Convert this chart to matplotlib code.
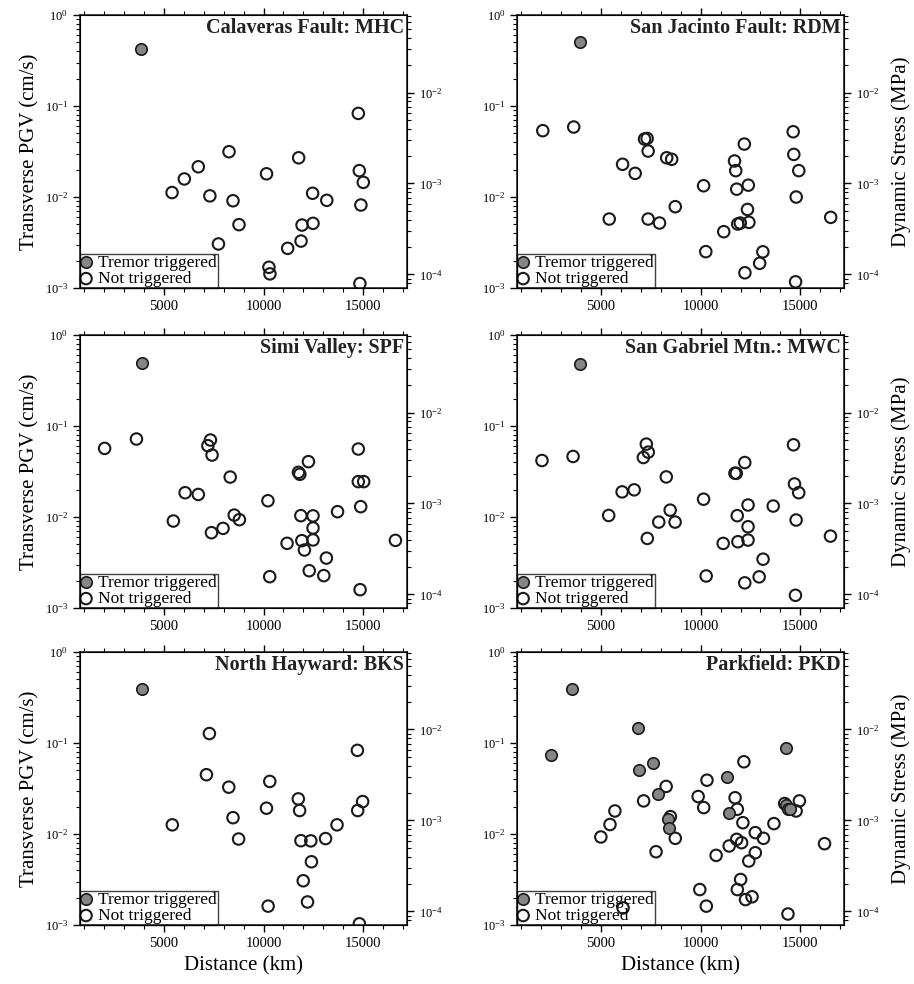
import matplotlib.pyplot as plt
from matplotlib.ticker import MultipleLocator, LogLocator, NullFormatter

plt.rcParams['font.family'] = ['Liberation Serif', 'DejaVu Serif']
plt.rcParams['mathtext.fontset'] = 'stix'

# --- data (distance km, transverse PGV cm/s) ---
mhc_trig_x = [3870]
mhc_trig_y = [0.42]
mhc_open_x = [5415, 6030, 6730, 7310, 7740, 8270, 8470, 8770, 10150, 10270, 10320,
              11210, 11760, 11880, 11930, 12460, 12480, 13170, 14750, 14800, 15000,
              14880, 14830]
mhc_open_y = [0.0112, 0.0158, 0.0215, 0.0103, 0.00305, 0.0315, 0.0091, 0.00497, 0.018,
              0.00169, 0.00143, 0.00273, 0.027, 0.00328, 0.00492, 0.011, 0.00514, 0.0092,
              0.083, 0.0195, 0.0145, 0.00817, 0.00112]

rdm_trig_x = [3940]
rdm_trig_y = [0.51]
rdm_open_x = [2090, 3640, 6090, 6720, 5420, 7190, 7320, 7370, 7370, 7940, 8300, 8550,
              8730, 10150, 10260, 11160, 11700, 11760, 11810, 11860, 11990, 12190,
              12390, 12350, 12420, 12220, 13120, 12960, 14640, 14670, 14920, 14790,
              14760, 16520]
rdm_open_y = [0.0536, 0.0588, 0.0229, 0.0182, 0.00573, 0.0434, 0.044, 0.032, 0.00573,
              0.00518, 0.027, 0.026, 0.00783, 0.0133, 0.00251, 0.00416, 0.0249, 0.0195,
              0.0122, 0.00505, 0.00518, 0.0382, 0.0135, 0.0073, 0.00527, 0.00147,
              0.0025, 0.00187, 0.0522, 0.0294, 0.0195, 0.01, 0.00117, 0.00598]

spf_trig_x = [3913]
spf_trig_y = [0.49]
spf_open_x = [2035, 3630, 5480, 6070, 6730, 7210, 7340, 7420, 7390, 7970, 8330, 8530,
              8790, 10220, 10310, 11180, 11750, 11820, 12250, 11870, 11920, 12050,
              12480, 12480, 12480, 12290, 13020, 13150, 13710, 14750, 14750, 15020,
              14870, 14840, 16610]
spf_open_y = [0.0568, 0.072, 0.00904, 0.0185, 0.0177, 0.0608, 0.0702, 0.048, 0.00673,
              0.0075, 0.0275, 0.0105, 0.00935, 0.0151, 0.00221, 0.00514, 0.031, 0.0295,
              0.0406, 0.01035, 0.0055, 0.00434, 0.0103, 0.00757, 0.0056, 0.00257,
              0.00227, 0.00354, 0.01145, 0.0559, 0.0245, 0.0245, 0.013, 0.00159, 0.00554]

mwc_trig_x = [3934]
mwc_trig_y = [0.475]
mwc_open_x = [2049, 3607, 5393, 6066, 6672, 7131, 7279, 7377, 7328, 7902, 8279, 8475,
              8721, 10148, 10279, 11131, 11721, 11787, 11836, 11869, 12213, 12377,
              12377, 12377, 12213, 12934, 13131, 13639, 14656, 14705, 14918, 14787,
              14754, 16508]
mwc_open_y = [0.0418, 0.0463, 0.0104, 0.0189, 0.0199, 0.0451, 0.0633, 0.0517, 0.00582,
              0.0088, 0.0276, 0.0119, 0.0088, 0.0157, 0.00225, 0.00513, 0.0303, 0.0302,
              0.01035, 0.00535, 0.0397, 0.01356, 0.00782, 0.00558, 0.00189, 0.0022,
              0.00344, 0.0132, 0.0622, 0.0231, 0.0185, 0.00927, 0.00138, 0.00617]

bks_trig_x = [3898]
bks_trig_y = [0.388]
bks_open_x = [5428, 7286, 7138, 8257, 8470, 8750, 10148, 10313, 10230, 11743, 11809,
              11875, 12368, 12401, 11990, 12204, 13109, 13684, 14704, 14720, 14967, 14803]
bks_open_y = [0.0126, 0.127, 0.0448, 0.0327, 0.0151, 0.0088, 0.0192, 0.0378, 0.00161,
              0.0243, 0.0181, 0.00844, 0.0084, 0.00495, 0.00306, 0.00179, 0.0089, 0.0126,
              0.083, 0.0181, 0.0227, 0.00103]

pkd_trig_x = [2512, 3576, 6849, 6931, 7635, 7864, 8355, 8404, 11301, 11399, 14263,
              14296, 14378, 14460]
pkd_trig_y = [0.0743, 0.388, 0.145, 0.0504, 0.0602, 0.0274, 0.0145, 0.01165, 0.0425,
              0.0172, 0.0873, 0.0209, 0.019, 0.0186]
pkd_open_x = [5000, 5458, 5704, 7144, 7766, 8273, 8486, 8731, 9877, 10155, 10319, 9959,
              10286, 10777, 11432, 11727, 11841, 11808, 12054, 12119, 12169, 12005,
              11841, 12250, 12578, 12414, 12741, 12741, 13150, 13674, 14214, 14787,
              14951, 16211, 14378, 6113]
pkd_open_y = [0.00927, 0.0127, 0.0179, 0.0231, 0.00638, 0.0333, 0.0155, 0.00896, 0.0258,
              0.0195, 0.039, 0.00245, 0.00161, 0.00582, 0.00738, 0.025, 0.0187, 0.00873,
              0.00802, 0.0133, 0.0622, 0.00316, 0.00245, 0.0019, 0.00204, 0.00504,
              0.01035, 0.00622, 0.00896, 0.013, 0.0216, 0.0179, 0.0231, 0.00782, 0.00132,
              0.00154]

titles = ["Calaveras Fault: MHC", "San Jacinto Fault: RDM", "Simi Valley: SPF",
          "San Gabriel Mtn.: MWC", "North Hayward: BKS", "Parkfield: PKD"]
panels = [(mhc_trig_x, mhc_trig_y, mhc_open_x, mhc_open_y),
          (rdm_trig_x, rdm_trig_y, rdm_open_x, rdm_open_y),
          (spf_trig_x, spf_trig_y, spf_open_x, spf_open_y),
          (mwc_trig_x, mwc_trig_y, mwc_open_x, mwc_open_y),
          (bks_trig_x, bks_trig_y, bks_open_x, bks_open_y),
          (pkd_trig_x, pkd_trig_y, pkd_open_x, pkd_open_y)]

stress_factor = 0.071  # PGV (cm/s) -> dynamic stress (MPa)

fig = plt.figure(figsize=(9.14, 9.84), dpi=100)
col_left = [0.0875, 0.5657]
row_bottom = [0.7073, 0.3821, 0.060]
ax_w, ax_h = 0.358, 0.2774

for i, (title, (tx, ty, ox, oy)) in enumerate(zip(titles, panels)):
    r, c = divmod(i, 2)
    ax = fig.add_axes([col_left[c], row_bottom[r], ax_w, ax_h])
    ax.scatter(ox, oy, s=68, facecolors='none', edgecolors='#1a1a1a',
               linewidths=1.5, label='Not triggered', zorder=3)
    ax.scatter(tx, ty, s=68, facecolors='#858585', edgecolors='#1a1a1a',
               linewidths=1.2, label='Tremor triggered', zorder=4)
    ax.set_yscale('log')
    ax.set_ylim(1e-3, 1)
    ax.set_xlim(800, 17200)
    ax.xaxis.set_major_locator(MultipleLocator(5000))
    ax.xaxis.set_minor_locator(MultipleLocator(1000))
    ax.tick_params(axis='x', which='both', direction='out', top=True, labelsize=10.5)
    ax.tick_params(axis='y', which='both', direction='out', labelsize=9)
    ax.tick_params(which='major', length=5, width=1)
    ax.tick_params(which='minor', length=3, width=0.8)
    for sp in ax.spines.values():
        sp.set_linewidth(1.2)
        sp.set_color('#222222')

    ax2 = ax.twinx()
    ax2.set_yscale('log')
    ax2.set_ylim(1e-3 * stress_factor, 1 * stress_factor)
    ax2.yaxis.set_major_locator(LogLocator(base=10))
    ax2.yaxis.set_minor_locator(LogLocator(base=10, subs=range(2, 10)))
    ax2.yaxis.set_minor_formatter(NullFormatter())
    ax2.tick_params(axis='y', which='both', direction='out', labelsize=9)
    ax2.tick_params(which='major', length=5, width=1)
    ax2.tick_params(which='minor', length=3, width=0.8)

    ax.text(0.99, 0.99, title, transform=ax.transAxes, ha='right', va='top',
            fontsize=14.5, fontweight='bold', color='#222222', zorder=6)

    handles, labels = ax.get_legend_handles_labels()
    leg = ax.legend(handles[::-1], labels[::-1], loc='lower left', fontsize=12.5,
                    frameon=True, fancybox=False, borderpad=0.05, borderaxespad=0,
                    handlelength=0.6, handletextpad=0.4, labelspacing=0.0,
                    edgecolor='#111111', facecolor='none', framealpha=None)
    leg.get_frame().set_linewidth(1.0)
    leg.set_zorder(5)

    if c == 0:
        ax.set_ylabel('Transverse PGV (cm/s)', fontsize=15, labelpad=4)
    else:
        ax2.set_ylabel('Dynamic Stress (MPa)', fontsize=15, labelpad=8)
    if r == 2:
        ax.set_xlabel('Distance (km)', fontsize=15, labelpad=5)

fig.savefig('out.png', dpi=100)
